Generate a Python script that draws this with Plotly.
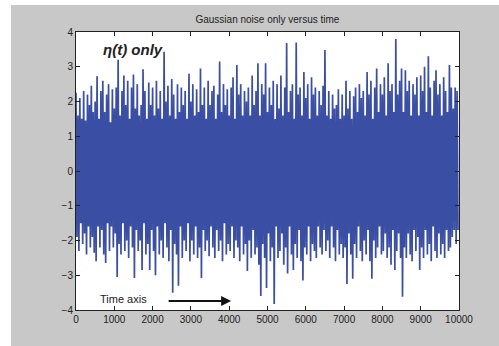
import plotly.graph_objects as go

# Upper and lower peak values of eta(t), read per 50-sample block
upper_peaks = [
    2.25, 1.6, 2.1, 1.5, 2.3, 1.45, 2.2, 1.9, 2.45, 1.7,
    2.0, 2.73, 1.5, 2.3, 2.6, 1.7, 2.2, 2.5, 1.4, 2.35,
    1.8, 2.4, 3.2, 1.6, 2.3, 2.75, 1.9, 2.6, 1.5, 2.4,
    2.78, 1.8, 2.5, 1.6, 1.9, 2.93, 2.3, 1.5, 2.55, 1.9,
    2.4, 1.6, 2.6, 1.8, 2.3, 1.5, 3.43, 2.0, 2.45, 1.6,
    2.65, 2.2, 1.5, 2.5, 1.7, 2.4, 1.9, 2.3, 1.5, 2.8,
    2.0, 2.5, 1.6, 2.35, 1.7, 2.95, 1.9, 2.4, 1.5, 2.6,
    1.9, 2.3, 2.45, 1.5, 2.2, 3.15, 1.7, 2.5, 1.9, 2.35,
    1.6, 2.4, 2.7, 1.5, 3.05, 2.2, 2.5, 1.6, 2.3, 2.0,
    2.4, 1.6, 2.75, 1.9, 2.3, 3.1, 1.6, 2.5, 2.2, 3.1,
    1.7, 2.4, 1.9, 2.6, 1.5, 2.5, 1.8, 2.75, 1.6, 2.4,
    3.68, 1.7, 2.3, 2.5, 1.5, 3.7, 2.2, 2.4, 1.6, 2.85,
    2.1, 2.5, 1.5, 2.7, 2.2, 2.4, 1.6, 2.3, 1.9, 2.45,
    3.48, 1.6, 2.3, 1.5, 2.2, 1.8, 1.9, 2.35, 1.5, 2.2,
    1.6, 2.6, 1.8, 2.3, 1.5, 2.15, 2.4, 1.7, 2.5, 2.1,
    2.3, 1.6, 2.85, 2.2, 2.6, 1.5, 2.4, 2.95, 1.7, 2.5,
    2.2, 2.7, 1.6, 3.1, 2.3, 2.5, 1.7, 3.8, 2.2, 2.6,
    2.95, 1.7, 2.9, 2.3, 2.6, 1.6, 2.5, 2.2, 2.7, 1.6,
    2.75, 2.3, 3.0, 1.7, 3.3, 2.4, 1.6, 2.6, 2.9, 2.2,
    2.5, 1.6, 2.7, 2.3, 1.7, 3.05, 2.4, 1.8, 2.4, 2.3,
]
lower_peaks = [
    -1.9, -2.3, -1.5, -2.1, -1.8, -2.4, -1.6, -2.2, -1.9, -2.35,
    -2.6, -1.6, -2.2, -1.7, -2.4, -2.65, -1.5, -2.3, -1.6, -2.2,
    -1.8, -3.05, -2.1, -2.4, -1.5, -2.3, -2.0, -2.5, -1.6, -2.2,
    -3.08, -1.7, -2.3, -2.0, -2.85, -1.5, -2.4, -2.1, -2.85, -1.7,
    -2.3, -3.0, -1.6, -2.4, -2.0, -2.5, -1.5, -2.2, -2.6, -1.7,
    -3.5, -2.1, -2.4, -3.3, -1.6, -2.5, -2.0, -2.3, -1.5, -2.6,
    -2.0, -2.4, -1.6, -2.5, -2.2, -3.08, -1.7, -2.3, -2.0, -2.45,
    -1.6, -2.2, -2.5, -1.7, -2.3, -2.0, -2.6, -1.5, -2.4, -2.1,
    -2.3, -1.6, -2.5, -2.0, -2.2, -2.6, -1.6, -2.4, -2.1, -2.88,
    -2.0, -2.5, -1.7, -2.4, -2.2, -2.7, -3.6, -2.1, -2.5, -3.37,
    -1.8, -2.6, -2.2, -3.83, -1.6, -2.5, -2.3, -1.8, -2.7, -2.2,
    -2.95, -1.6, -2.4, -2.85, -2.1, -2.5, -1.7, -2.6, -3.15, -2.2,
    -2.4, -1.6, -2.6, -2.1, -2.3, -2.5, -1.6, -2.2, -2.4, -1.7,
    -2.3, -2.0, -2.5, -1.6, -2.2, -2.6, -1.7, -2.4, -2.1, -2.5,
    -2.2, -3.25, -1.8, -2.4, -3.1, -2.1, -2.5, -1.6, -2.3, -2.6,
    -2.0, -2.4, -1.7, -2.6, -3.1, -2.0, -2.5, -2.2, -1.6, -2.4,
    -2.3, -1.8, -2.5, -2.2, -2.7, -1.7, -2.85, -2.3, -1.8, -2.5,
    -3.62, -2.2, -2.5, -1.8, -2.4, -2.6, -1.7, -2.3, -1.9, -2.85,
    -2.2, -2.5, -1.7, -2.4, -2.1, -2.6, -1.6, -2.3, -2.5, -1.8,
    -2.4, -2.1, -2.5, -1.7, -2.3, -2.2, -1.9, -1.7, -2.1, -1.7,
]
block = 50  # samples per block

eta = []
t = []
for i, (hi, lo) in enumerate(zip(upper_peaks, lower_peaks)):
    t.extend([i * block, i * block + block / 2])
    eta.extend([hi, lo])

x_ticks = list(range(0, 10001, 1000))
y_ticks = list(range(-4, 5))

fig = go.Figure()
fig.add_trace(go.Scatter(x=t, y=eta, mode="lines",
                         line=dict(color="#3a4fa3", width=1.7), hoverinfo="skip",
                         showlegend=False))

axis_common = dict(showgrid=False, zeroline=False, showline=True, linecolor="#222",
                   linewidth=1, mirror="ticks", ticks="inside", ticklen=4,
                   tickcolor="#222", automargin=False,
                   tickfont=dict(family="Liberation Sans, Arial", size=10, color="#222"))

fig.update_xaxes(range=[0, 10000], tickvals=x_ticks, tickformat="d", **axis_common)
fig.update_yaxes(range=[-4, 4], tickvals=y_ticks, **axis_common)

# white strips outside the gray panel (left and top)
fig.add_shape(type="rect", xref="paper", yref="paper",
              x0=-76 / 383, x1=-65 / 383, y0=-0.2, y1=1.2,
              fillcolor="white", line_width=0, layer="below")
fig.add_shape(type="rect", xref="paper", yref="paper",
              x0=-0.25, x1=1.2, y0=1 + 27 / 278, y1=1 + 32 / 278,
              fillcolor="white", line_width=0, layer="below")

fig.add_annotation(x=650, y=3.5, xref="x", yref="y", text="<b><i>η(t) only</i></b>",
                   showarrow=False, xanchor="left", yanchor="middle",
                   font=dict(family="Liberation Sans, Arial", size=15, color="#222"))
fig.add_annotation(x=575, y=-3.68, xref="x", yref="y", text="Time axis",
                   showarrow=False, xanchor="left", yanchor="middle",
                   font=dict(family="Liberation Sans, Arial", size=11, color="#222"))
fig.add_annotation(x=4050, y=-3.74, ax=2380, ay=-3.74, xref="x", yref="y",
                   axref="x", ayref="y", text="", showarrow=True,
                   arrowhead=2, arrowsize=1, arrowwidth=2, arrowcolor="#111")

fig.update_layout(
    width=499, height=346,
    margin=dict(l=76, r=40, t=32, b=36),
    paper_bgcolor="#c8c8c8", plot_bgcolor="white",
    title=dict(text="Gaussian noise only versus time", x=0.536, xanchor="center",
               y=1 - 19 / 346, yanchor="middle",
               font=dict(family="Liberation Sans, Arial", size=10, color="#222")),
)

fig.write_html("out.html", config={"displayModeBar": False},
               post_script="document.body.style.margin='0px';document.body.style.overflow='hidden';")
